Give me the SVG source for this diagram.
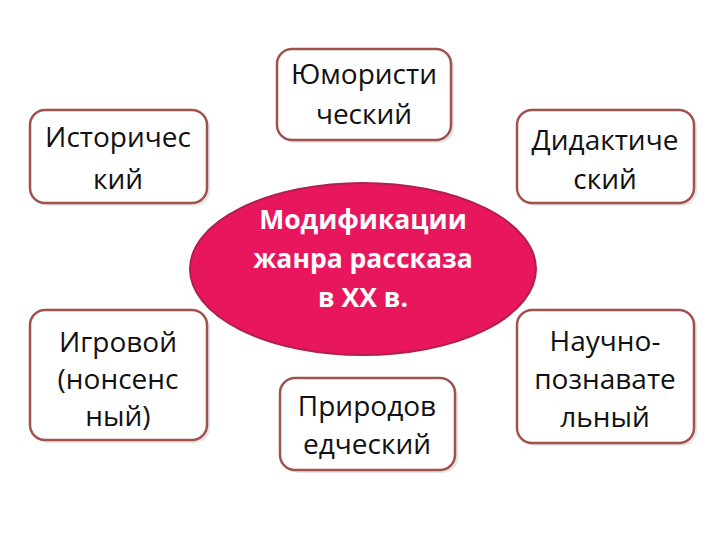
<svg xmlns="http://www.w3.org/2000/svg" width="720" height="540" viewBox="0 0 720 540">
<defs><style>
.b{fill:#fff;stroke:#a0524f;stroke-width:2.5}
.s{fill:#e6e6e6}
.t{font-family:"Open Sans","Liberation Sans",sans-serif;font-size:28px;fill:#111;text-anchor:middle}
.c{font-family:"Open Sans","Liberation Sans",sans-serif;font-size:26.5px;font-weight:bold;fill:#fff;text-anchor:middle}
</style></defs>
<rect width="720" height="540" fill="#fff"/>
<g id="n1"><rect class="s" x="33" y="113" width="177" height="93" rx="15"/><rect class="b" x="30" y="110" width="177" height="93" rx="15"/><text class="t" x="118" y="147">Историчес</text><text class="t" x="118" y="189">кий</text></g>
<g id="n2"><rect class="s" x="280" y="52" width="174" height="91" rx="15"/><rect class="b" x="277" y="49" width="174" height="91" rx="15"/><text class="t" x="364" y="84">Юмористи</text><text class="t" x="364" y="124">ческий</text></g>
<g id="n3"><rect class="s" x="520" y="113" width="177" height="93" rx="15"/><rect class="b" x="517" y="110" width="177" height="93" rx="15"/><text class="t" x="605" y="150">Дидактиче</text><text class="t" x="605" y="189">ский</text></g>
<g id="n4"><rect class="s" x="33" y="313" width="177" height="130" rx="15"/><rect class="b" x="30" y="310" width="177" height="130" rx="15"/><text class="t" x="118" y="352">Игровой</text><text class="t" x="118" y="389">(нонсенс</text><text class="t" x="118" y="426">ный)</text></g>
<g id="n5"><rect class="s" x="283" y="381" width="175" height="92" rx="15"/><rect class="b" x="280" y="378" width="175" height="92" rx="15"/><text class="t" x="367" y="416">Природов</text><text class="t" x="367" y="454">едческий</text></g>
<g id="n6"><rect class="s" x="520" y="313" width="177" height="133" rx="15"/><rect class="b" x="517" y="310" width="177" height="133" rx="15"/><text class="t" x="605" y="351">Научно-</text><text class="t" x="605" y="389">познавате</text><text class="t" x="605" y="427">льный</text></g>
<g id="center"><ellipse cx="363" cy="269" rx="173" ry="86" fill="#e8175d" stroke="#b02048" stroke-width="2"/><text class="c" x="363" y="229">Модификации</text><text class="c" x="363" y="268">жанра рассказа</text><text class="c" x="363" y="307">в XX в.</text></g>
<g id="connectors"></g>
</svg>
